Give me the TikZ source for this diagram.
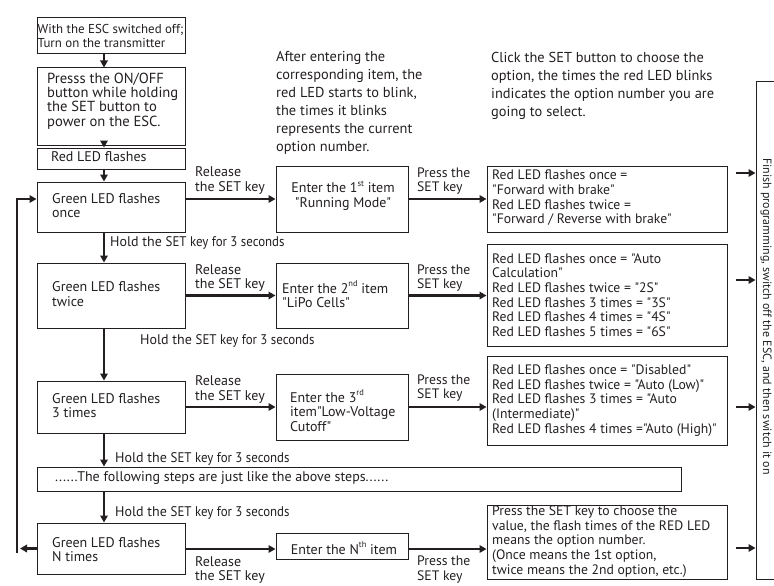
\documentclass[tikz,border=0pt]{standalone}
\usepackage{fontspec}
\newfontfamily\bodyfont{PT Sans}
\usetikzlibrary{arrows.meta,calc}
\definecolor{ink}{HTML}{231F20}
\begin{document}
\begin{tikzpicture}[x=1pt,y=-1pt,
  frame/.style={draw=ink, line width=1pt, inner sep=0pt},
  txt/.style={inner sep=0pt, anchor=west, align=left, text=ink, font=\bodyfont\fontsize{14}{14.7}\selectfont},
  ctxt/.style={txt, anchor=center, align=center},
  opt/.style={txt, font=\bodyfont\fontsize{13.7}{14.7}\selectfont},
  note/.style={txt, font=\bodyfont\fontsize{14.4}{18}\selectfont},
  arr/.style={draw=ink, line width=2.3pt, -{Triangle[length=7pt,width=7.5pt]}},
]
\useasboundingbox (0,0) rectangle (774,586);
\clip (0,0) rectangle (774,586);
\newcommand{\cond}[1]{{\addfontfeatures{FakeStretch=0.92}#1}}
\newcommand{\sups}[1]{\raisebox{0.45em}{\fontsize{8.5}{8.5}\selectfont #1}}
% boxes
\node[frame, minimum width=148pt, minimum height=36pt] (start) at (111,36) {};
\node[frame, minimum width=148pt, minimum height=77pt] (press) at (111,106.5) {};
\node[frame, minimum width=148pt, minimum height=21pt] (red) at (111,158.5) {};
\node[frame, minimum width=148pt, minimum height=50pt] (g1) at (111,207) {};
\node[frame, minimum width=148pt, minimum height=65pt] (g2) at (111,295.5) {};
\node[frame, minimum width=148pt, minimum height=52pt] (g3) at (111,407) {};
\node[frame, minimum width=644pt, minimum height=24pt] (dots) at (359,479) {};
\node[frame, minimum width=148pt, minimum height=51pt] (gN) at (111,548.5) {};
\node[frame, minimum width=132pt, minimum height=66pt] (e1) at (342,199) {};
\node[frame, minimum width=132pt, minimum height=65pt] (e2) at (342,295.5) {};
\node[frame, minimum width=132pt, minimum height=66pt] (e3) at (342,407) {};
\node[frame, minimum width=132pt, minimum height=26pt] (eN) at (342,546) {};
\node[frame, minimum width=240pt, minimum height=66pt] (o1) at (607,199) {};
\node[frame, minimum width=240pt, minimum height=102pt] (o2) at (607,295) {};
\node[frame, minimum width=240pt, minimum height=89pt] (o3) at (607,400.5) {};
\node[frame, minimum width=240pt, minimum height=74pt] (o4) at (607,542) {};
\node[frame, minimum width=44pt, minimum height=497pt] (fin) at (778,330.5) {};
% box texts
\node[txt, font=\bodyfont\fontsize{12.9}{14}\selectfont] (tstart) at (37.5,36) {With the ESC switched off;\\Turn on the transmitter};
\node[txt, font=\bodyfont\fontsize{14.6}{14.4}\selectfont] (tpress) at (47,101) {Presss the ON/OFF\\button while holding\\the SET button to\\power on the ESC.};
\node[txt] (tred) at (51,157) {Red LED flashes};
\node[txt] (tg1) at (52,205.5) {Green LED flashes\\once};
\node[txt] (tg2) at (52,294) {Green LED flashes\\twice};
\node[txt] (tg3) at (52,405.5) {Green LED flashes\\3 times};
\node[txt] (tgN) at (52,549.5) {Green LED flashes\\N times};
\node[txt] (tdots) at (55,478) {......The following steps are just like the above steps......};
\node[ctxt] (te1) at (343,195.5) {Enter the 1\sups{st} item\\"Running Mode"};
\node[txt] (te2) at (282,294.5) {Enter the 2\sups{nd} item\\"LiPo Cells"};
\node[txt] (te3) at (290,410.7) {Enter the 3\sups{rd}\\item"Low-Voltage\\Cutoff"};
\node[ctxt] (teN) at (344,548) {Enter the N\sups{th} item};
\node[opt] (to1) at (492,198) {Red LED flashes once =\\"Forward with brake"\\Red LED flashes twice =\\"Forward / Reverse with brake"};
\node[opt] (to2) at (492,295) {Red LED flashes once = "Auto\\Calculation"\\Red LED flashes twice = "2S"\\Red LED flashes 3 times = "3S"\\Red LED flashes 4 times = "4S"\\Red LED flashes 5 times = "6S"};
\node[opt] (to3) at (492,400.5) {Red LED flashes once = "Disabled"\\Red LED flashes twice = "Auto (Low)"\\Red LED flashes 3 times = "Auto\\(Intermediate)"\\Red LED flashes 4 times ="Auto (High)"};
\node[opt] (to4) at (492,541.5) {Press the SET key to choose the\\value, the flash times of the RED LED\\means the option number.\\(Once means the 1st option,\\twice means the 2nd option, etc.)};
\node[ctxt, rotate=-90, font=\bodyfont\fontsize{12}{14}\selectfont] (tfin) at (766,316.5) {Finish programming, switch off the ESC, and then switch it on};
% notes
\node[note] (n1) at (276,103) {After entering the\\corresponding item, the\\red LED starts to blink,\\the times it blinks\\represents the current\\option number.};
\node[note] (n2) at (491,86.3) {Click the SET button to choose the\\option, the times the red LED blinks\\indicates the option number you are\\going to select.};
% edge labels
\node[txt] (r1) at (195,180.5) {Release\\the SET key};
\node[txt] (r2) at (195,278) {Release\\the SET key};
\node[txt] (r3) at (195,389.5) {Release\\the SET key};
\node[txt] (rN) at (195,570) {Release\\the SET key};
\node[opt] (p1) at (417,181) {Press the\\SET key};
\node[opt] (p2) at (417,278) {Press the\\SET key};
\node[opt] (p3) at (417,388) {Press the\\SET key};
\node[opt] (pN) at (417,569.5) {Press the\\SET key};
\node[txt] (h1) at (110,243) {Hold the \cond{SET key for 3 seconds}};
\node[txt] (h2) at (140,341) {Hold the \cond{SET key for 3 seconds}};
\node[txt] (h3) at (115,459) {Hold the \cond{SET key for 3 seconds}};
\node[txt] (h4) at (115,513) {Hold the \cond{SET key for 3 seconds}};
% connectors
\coordinate (vx) at (104,0);
\draw[arr] (start.south -| vx) -- (press.north -| vx);
\draw[arr] (press.south -| vx) -- (red.north -| vx);
\draw[arr] (red.south -| vx) -- (g1.north -| vx);
\draw[arr] (g1.south -| vx) -- (g2.north -| vx);
\draw[arr] (g2.south -| vx) -- (g3.north -| vx);
\draw[arr] (g3.south -| vx) -- (dots.north -| vx);
\draw[arr] (dots.south -| vx) -- (gN.north -| vx);
\draw[arr] (g1.east |- e1.west) -- (e1.west);
\draw[arr] (e1.east) -- (o1.west);
\draw[arr] (g2.east) -- (e2.west);
\draw[arr] (e2.east) -- (e2.east -| o2.west);
\draw[arr] (g3.east) -- (e3.west);
\draw[arr] (e3.east) -- (e3.east -| o3.west);
\coordinate (ny) at (0,549);
\draw[arr] (gN.east |- ny) -- (eN.west |- ny);
\draw[arr] (eN.east |- ny) -- (o4.west |- ny);
% loop back
\coordinate (loopL) at (20,548.5);
\coordinate (loopB) at (17,553);
\coordinate (loopT) at (0,199);
\draw[arr] (gN.west) -- (gN.west -| loopL);
\draw[arr] (loopB) |- (g1.west |- loopT);
% finish arrows
\coordinate (fa1) at (736,173);
\coordinate (fa2) at (736,280);
\coordinate (fa3) at (736,407);
\coordinate (fa4) at (736,548);
\draw[arr] (fa1) -- (fa1 -| fin.west);
\draw[arr] (fa2) -- (fa2 -| fin.west);
\draw[arr] (fa3) -- (fa3 -| fin.west);
\draw[arr] (fa4) -- (fa4 -| fin.west);
\end{tikzpicture}
\end{document}
